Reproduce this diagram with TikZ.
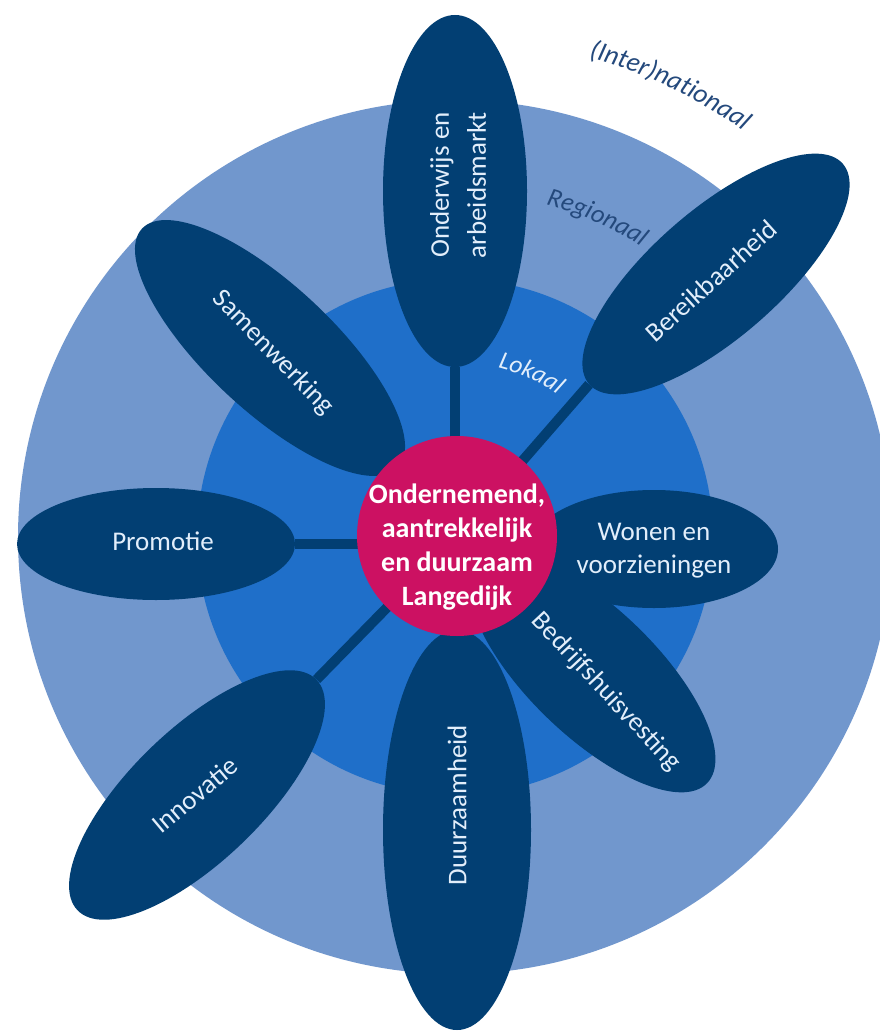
\documentclass[tikz,border=0pt]{standalone}
\usepackage{fontspec}
\setmainfont{Carlito}
\usetikzlibrary{shapes.geometric,decorations.text}
\pgfdeclarelayer{bg}
\pgfdeclarelayer{conns}
\pgfsetlayers{bg,conns,main}
\definecolor{outerc}{HTML}{7197CD}
\definecolor{innerc}{HTML}{1F6FC9}
\definecolor{navy}{HTML}{023F73}
\definecolor{mag}{HTML}{CC1162}
\definecolor{petaltext}{HTML}{E2EEFB}
\definecolor{ringlab}{HTML}{24497C}
\definecolor{loklab}{HTML}{E2EEFB}
\begin{document}
\begin{tikzpicture}[x=1pt,y=1pt,
  petal/.style={ellipse, fill=navy, draw=none, inner sep=0pt},
  ptext/.style={text=petaltext, font=\fontsize{27}{33}\selectfont, align=center, inner sep=0pt},
  conn/.style={draw=navy, line width=10pt},
  ring/.style={circle, draw=none, inner sep=0pt},
]
\useasboundingbox (0,0) rectangle (879,-1032);
\begin{pgfonlayer}{bg}
\fill[white] (0,0) rectangle (879,-1032);
\node[ring, fill=outerc, minimum size=874pt] (outer) at (455,-537) {};
\node[ring, fill=innerc, minimum size=516pt] (inner) at (455,-537) {};
\end{pgfonlayer}

% petals
\node[petal, minimum width=352pt, minimum height=144pt, rotate=90] (p1) at (455,-191) {};
\node[petal, minimum width=336pt, minimum height=128pt, rotate=41] (p2) at (716,-274) {};
\node[petal, minimum width=350pt, minimum height=126pt, rotate=-43] (p3) at (270,-348) {};
\node[petal, minimum width=278pt, minimum height=112pt] (p4) at (156,-544) {};
\node[petal, minimum width=248pt, minimum height=118pt] (p5) at (654,-549) {};
\node[petal, minimum width=320pt, minimum height=128pt, rotate=-44] (p6) at (592,-672) {};
\node[petal, minimum width=400pt, minimum height=148pt, rotate=90] (p7) at (457,-830) {};
\node[petal, minimum width=332pt, minimum height=132pt, rotate=44] (p8) at (197,-795) {};

% centre
\node[ring, fill=mag, minimum size=200pt] (c) at (457,-536) {};

\begin{pgfonlayer}{conns}
\draw[conn] (p1.west |- c.center) -- (p1.west);
\draw[conn] (c.center) -- (p2.west);
\draw[conn] (c.center) -- (p3.east);
\draw[conn] (p4.east -| c.center) -- (p4.east);
\draw[conn] (c.center) -- (p5.west);
\draw[conn] (c.center) -- (p6.west);
\draw[conn] (c.center) -- (p7.east);
\draw[conn] (c.center) -- (p8.east);
\end{pgfonlayer}

% petal texts
\node[ptext, rotate=90, font=\fontsize{27}{37}\selectfont] (t1) at (458,-185) {Onderwijs en\\arbeidsmarkt};
\node[ptext, rotate=42] (t2) at (711,-281) {Bereikbaarheid};
\node[ptext, rotate=-46] (t3) at (273,-353) {Samenwerking};
\node[ptext] (t4) at (163,-541) {Promotie};
\node[ptext] (t5) at (654,-551) {Wonen en\\voorzieningen};
\node[ptext, rotate=-47] (t6) at (606,-692) {Bedrijfshuisvesting};
\node[ptext, rotate=90] (t7) at (457,-805) {Duurzaamheid};
\node[ptext, rotate=40] (t8) at (195,-795) {Innovatie};

% centre text
\node[text=white, font=\bfseries\fontsize{28}{34}\selectfont, align=center, inner sep=0pt] (ctext) at (457,-547) {Ondernemend,\\aantrekkelijk\\en duurzaam\\Langedijk};

% ring labels
\path[decorate, decoration={text along path, text align=center,
  text={|\fontsize{27}{27}\selectfont\itshape\color{ringlab}|(Inter)nationaal}}]
  (455,-537) ++(77:498) arc[start angle=77, end angle=52, radius=498];
\path[decorate, decoration={text along path, text align=center,
  text={|\fontsize{26}{26}\selectfont\itshape\color{ringlab}|Regionaal}}]
  (455,-537) ++(78:345) arc[start angle=78, end angle=54, radius=345];
\path[decorate, decoration={text along path, text align=center,
  text={|\fontsize{25}{25}\selectfont\itshape\color{loklab}|Lokaal}}]
  (455,-537) ++(78:175) arc[start angle=78, end angle=52, radius=175];
\end{tikzpicture}
\end{document}
